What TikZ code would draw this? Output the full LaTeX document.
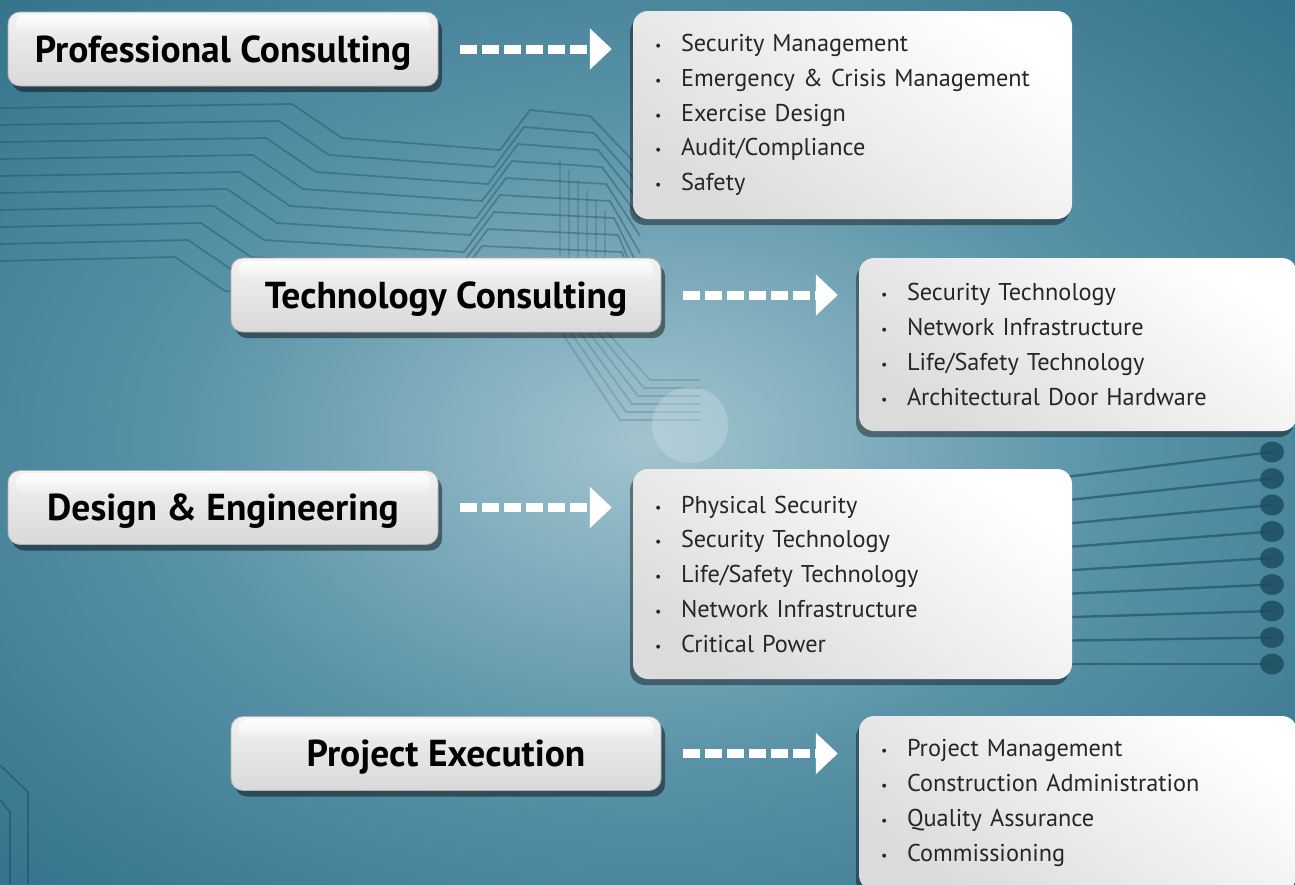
\documentclass[tikz,border=0pt]{standalone}
\usepackage{fontspec}
\setmainfont{PT Sans}
\usetikzlibrary{shadows,arrows.meta,fadings,calc}
\definecolor{bgouter}{HTML}{2A6B84}
\definecolor{bgmid}{HTML}{5A93A8}
\definecolor{bginner}{HTML}{A2C4CF}
\definecolor{trace}{HTML}{1B4A5C}
\definecolor{listtext}{HTML}{262626}
\pgfdeclareradialshading{bgshade}{\pgfpoint{0bp}{0bp}}{color(0bp)=(bginner); color(18bp)=(bgmid); color(40bp)=(bgouter); color(60bp)=(bgouter)}
\tikzfading[name=glossfade, top color=transparent!5, bottom color=transparent!100]
\newcommand\itm[1]{\makebox[26pt][l]{\fontsize{14}{14}\selectfont\raisebox{1pt}{•}}#1}
\tikzset{
  lbl/.style={rounded corners=12pt, minimum width=430pt, minimum height=74pt, inner sep=0pt,
    top color=gray!10, bottom color=gray!30, draw=gray!60, line width=0.8pt,
    text height=26.5pt, text depth=0pt, text=black,
    font=\fontsize{37.5}{42}\selectfont\bfseries,
    drop shadow={shadow xshift=4pt, shadow yshift=-6pt, opacity=0.45, fill=black}},
  lst/.style={rounded corners=15pt, inner xsep=22pt, inner ysep=0pt, align=left,
    top color=white, bottom color=gray!28, shading angle=-35, text=listtext,
    font=\fontsize{24.3}{34.75}\selectfont,
    drop shadow={shadow xshift=-3pt, shadow yshift=-6pt, opacity=0.4, fill=black}},
  darr/.style={draw=white, line width=9pt, dash pattern=on 17pt off 5pt,
    -{Triangle[length=22pt 0 0, width=40pt 0 0]}, shorten <=22pt, shorten >=21pt},
  trc/.style={draw=trace, line width=1.7pt, opacity=0.4},
  trc2/.style={draw=trace, line width=2.4pt, opacity=0.6},
  dot/.style={fill=trace, opacity=0.8}
}
\begin{document}
\begin{tikzpicture}[x=1pt,y=-1pt]
\useasboundingbox (0,0) rectangle (1295,884);
\begin{scope}
\clip (0,0) rectangle (1295,884);
\shade[shading=bgshade] (0,0) rectangle (1295,884);
% faint background circuit traces
\foreach \k in {0,...,9} {
  \pgfmathsetmacro\yy{108+17*\k}
  \pgfmathsetmacro\xa{292-13*\k}
  \pgfmathsetmacro\xb{500-6*\k}
  \draw[trc] (0,\yy) -- (\xa,\yy-4) -- (\xa+50,\yy+30) -- (\xb,\yy+42) -- (\xb+30,\yy+2) -- (590+4*\k,\yy+8) -- (640,\yy+60);
}
\foreach \k in {0,...,5} {
  \draw[trc, opacity=0.2] (560+9*\k,160+10*\k) -- (560+9*\k,330) -- (620+6*\k,420-8*\k) -- (700,420-8*\k);
}
\fill[white!60!bginner, opacity=0.3] (690,425) circle (38);
\foreach \k in {0,...,8} {
  \draw[trc2] (1040,480+23*\k) -- (1272,452+26.5*\k);
  \fill[dot] (1272,452+26.5*\k) ellipse (12 and 10.5);
}
\draw[trc, opacity=0.5] (0,765) -- (28,792) -- (28,884);
\draw[trc, opacity=0.5] (0,800) -- (10,812) -- (10,884);
% category labels
\node[lbl] (pc) at (223,49) {Professional Consulting};
\node[lbl] (tc) at (446,295) {Technology Consulting};
\node[lbl] (de) at (223,507.5) {Design \& Engineering};
\node[lbl] (pe) at (446,753.5) {Project Execution};
\foreach \n in {pc,tc,de,pe} {
  \fill[white, path fading=glossfade, rounded corners=9pt]
    ($(\n.north west)+(8,3)$) rectangle ($(\n.north east)+(-8,24)$);
}
% lists
\node[lst, text width=395pt, minimum height=208pt] (l1) at (852.5,115)
  {\itm{Security Management}\\ \itm{Emergency \& Crisis Management}\\ \itm{Exercise Design}\\ \itm{Audit/Compliance}\\ \itm{Safety}};
\node[lst, text width=394pt, minimum height=173pt] (l2) at (1078,344.5)
  {\itm{Security Technology}\\ \itm{Network Infrastructure}\\ \itm{Life/Safety Technology}\\ \itm{Architectural Door Hardware}};
\node[lst, text width=395pt, minimum height=210pt] (l3) at (852.5,574)
  {\itm{Physical Security}\\ \itm{Security Technology}\\ \itm{Life/Safety Technology}\\ \itm{Network Infrastructure}\\ \itm{Critical Power}};
\node[lst, text width=394pt, minimum height=174pt] (l4) at (1078,803)
  {\itm{Project Management}\\ \itm{Construction Administration}\\ \itm{Quality Assurance}\\ \itm{Commissioning}};
% arrows
\draw[darr] (pc.east) -- (pc.east -| l1.west);
\draw[darr] (tc.east) -- (tc.east -| l2.west);
\draw[darr] (de.east) -- (de.east -| l3.west);
\draw[darr] (pe.east) -- (pe.east -| l4.west);
\end{scope}
\end{tikzpicture}
\end{document}
